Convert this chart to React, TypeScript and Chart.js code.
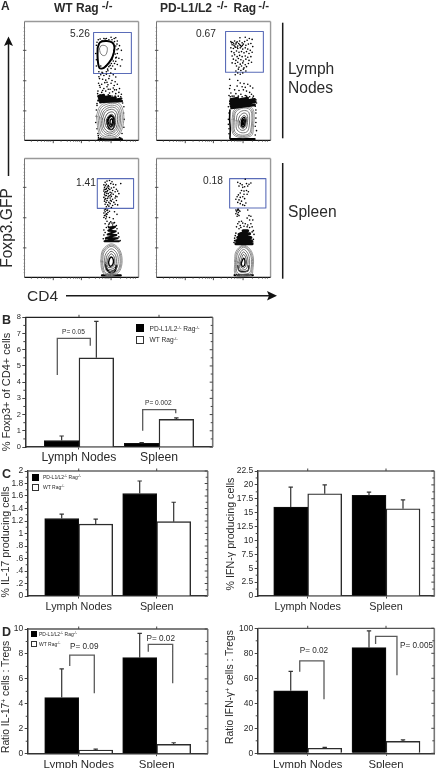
import React, { useEffect, useRef } from "react";
import { Chart, registerables } from "chart.js";

Chart.register(...registerables);

/* ---------- bar panels: values ---------- */
const categories = ["Lymph Nodes", "Spleen"];
const categoryPositions = [1, 2];
const seriesKo = "PD-L1/L2-/- Rag-/-";
const seriesWt = "WT Rag-/-";

const bKo = [0.4, 0.22];
const bWt = [5.5, 1.7];
const bKoTop = [0.68, 0.27];
const bWtTop = [7.75, 1.8];
const bTicks = ["0", "1", "2", "3", "4", "5", "6", "7", "8"];
const bBrackets = [
  [0.729, 4.44, 0.729, 6.7, 1.141, 6.7, 1.141, 6.25],
  [1.796, 1.0, 1.796, 2.3, 2.209, 2.3, 2.209, 2.08],
];

const cLeftKo = [1.24, 1.64];
const cLeftWt = [1.15, 1.19];
const cLeftKoTop = [1.31, 1.84];
const cLeftWtTop = [1.23, 1.5];
const cLeftTicks = ["0", ".2", ".4", ".6", ".8", "1", "1.2", "1.4", "1.6", "1.8", "2"];

const cRightKo = [16, 18.1];
const cRightWt = [18.4, 15.7];
const cRightKoTop = [19.6, 18.7];
const cRightWtTop = [20, 17.3];
const cRightTicks = ["0", "2.5", "5", "7.5", "10", "12.5", "15", "17.5", "20", "22.5"];

const dLeftKo = [4.5, 7.7];
const dLeftWt = [0.3, 0.75];
const dLeftKoTop = [6.8, 9.65];
const dLeftWtTop = [0.36, 0.88];
const dLeftTicks = ["0", "2", "4", "6", "8", "10"];
const dLeftBrackets = [
  [0.885, 7.03, 0.885, 7.9, 1.2, 7.9, 1.2, 4.84],
  [1.892, 8.18, 1.892, 8.77, 2.205, 8.77, 2.205, 5.64],
];

const dRightKo = [50, 84.5];
const dRightWt = [4, 9.5];
const dRightKoTop = [65.5, 98];
const dRightWtTop = [4.8, 10.8];
const dRightTicks = ["0", "20", "40", "60", "80", "100"];
const dRightBrackets = [
  [0.898, 65.3, 0.898, 74, 1.208, 74, 1.208, 43.2],
  [1.867, 87.5, 1.867, 93.6, 2.14, 93.6, 2.14, 62.4],
];

/* ---------- flow panels: events and contours in channel units ---------- */
const flowYTicks = [100, 197, 293];
const flowYMinor = [28, 40, 52, 62, 72, 82, 125, 137, 149, 159, 169, 179, 220, 232, 244, 254, 264, 274, 318, 330, 342, 352, 362, 372];
const flowXTicks = [100, 190, 285];
const flowXMinor = [30, 50, 62, 72, 80, 86, 92, 125, 145, 155, 165, 172, 178, 184, 215, 235, 248, 258, 266, 272, 278, 315, 335, 347, 356, 363];

const a1Dots = [305,70,312,85,318,100,305,110,310,125,320,130,300,135,305,145,315,150,290,150,285,158,298,160,275,165,295,62,300,60,285,58,270,62,250,64,262,62,308,95,302,122,296,142,282,148,
  244,66,256,70,266,64,278,66,288,66,296,72,304,80,300,86,304,98,298,112,300,124,292,134,286,142,278,152,270,168,256,170,246,168,238,150,238,130,236,110,238,84,240,74,274,160,268,150,252,150,288,128,294,100,
  252,178,262,180,270,176,280,182,292,178,300,185,248,190,258,192,268,195,278,190,288,196,298,200,245,205,255,208,265,203,275,210,285,205,295,212,305,208,250,218,262,222,272,216,282,224,292,220,302,226,312,222,243,230,255,234,268,230,280,236,290,232,300,238,310,234,318,240,
  246,184,258,172,284,172,272,202,248,212,258,228,276,224,296,226,242,238,250,242,264,244,276,242,288,246,298,246,308,246,316,248,
  238,310,236,330,240,350,243,365,245,378,325,300,327,320,326,345,320,365,316,380,240,276,238,290,326,280,240,270,322,268,244,372,252,380,312,378];
const a1Bands = [[242,92,250,74,272,70,290,76,296,92,290,120,278,140,262,156,248,156,242,125,242,92]];
const a1Zig = [244,246,262,242,246,252,282,246,244,260,300,250,250,266,318,254,262,264,320,262];
const a1Rings = [
  [238,310,250,278,282,264,312,270,325,300,322,345,305,375,270,380,248,368,238,310],
  [243,311,254,282,283,269,309,275,320,302,317,345,302,372,271,376,251,363,243,311],
  [248,313,259,287,284,275,306,281,315,305,312,345,298,367,273,371,255,356,248,313],
  [253,315,263,292,285,281,303,287,311,308,307,345,294,362,275,366,258,350,253,315],
  [258,318,267,296,286,288,300,294,306,312,302,345,291,358,276,360,262,345,258,318],
  [264,320,272,303,287,296,297,302,300,318,297,342,288,352,277,352,267,340,264,320],
  [270,322,276,310,287,304,294,310,296,322,293,338,286,346,279,345,272,336,270,322],
];
const a1Core = [[275,325,280,314,288,310,293,316,294,326,291,336,285,342,280,340,275,325],[282,322,288,318,290,326,287,336,282,334,282,322],[272,330,276,345,283,352,291,350,296,335,295,318,286,308,277,314,272,330]];
const a1Inner = [248,95,252,86,262,84,272,90,272,105,266,116,256,115,250,106,248,95];
const a1Base = [245,384,320,384];

const a2Dots = [246,72,252,75,258,70,266,73,274,70,282,76,290,72,298,68,305,62,292,58,275,60,314,65,250,82,256,84,262,80,268,86,274,82,280,88,286,80,294,84,302,80,310,78,316,88,246,92,254,94,260,90,268,94,276,92,284,96,292,92,300,96,308,100,248,104,256,108,264,102,272,106,280,104,288,108,296,104,304,110,314,106,250,118,258,114,266,120,274,116,282,120,292,118,300,122,310,120,254,128,262,132,270,126,278,130,286,134,294,128,304,132,250,140,260,142,268,138,276,144,284,140,292,146,302,142,312,138,264,150,272,154,280,150,288,156,296,152,270,160,278,164,286,160,294,166,262,166,
  248,76,255,79,263,76,271,78,277,85,259,87,266,90,283,84,
  268,172,276,176,284,172,260,178,242,192,268,196,276,204,288,206,300,208,244,212,266,214,282,216,292,218,308,214,316,220,242,222,258,226,272,228,286,226,296,230,306,234,246,236,262,238,278,240,292,244,312,240,318,246,240,244,250,246,326,258,328,268,240,300,238,320,326,300,326,330,240,350,
  244,248,256,246,270,246,282,248,296,246,306,248,316,252,324,278,326,290,326,316,324,342,328,356,324,370,238,280,238,336,240,366];
const a2Bands = [[243,290,242,320,244,350,243,380]];
const a2Zig = [246,256,268,252,244,262,300,252,244,270,322,256,246,278,324,264,248,284,322,274];
const a2Rings = [
  [250,320,256,290,285,277,312,282,320,300,318,345,312,372,275,378,252,365,250,320],
  [254,321,259,293,285,280,309,285,316,303,314,345,308,369,275,374,255,362,254,321],
  [257,322,262,296,286,284,307,289,313,306,311,345,304,366,276,370,258,358,257,322],
  [263,324,268,303,286,292,302,296,306,312,304,345,297,360,277,362,264,350,263,324],
  [269,325,274,310,287,300,297,304,300,318,297,343,291,353,278,354,270,343,269,325],
  [274,327,279,316,288,308,294,312,296,322,293,340,287,348,280,347,275,338,274,327],
];
const a2Core = [[279,330,283,318,289,314,292,322,291,336,286,344,281,342,279,330],[284,322,288,320,288,334,284,338,284,322]];
const a2Base = [245,383,322,383];

const a3Dots = [266,84,272,80,280,78,288,82,262,92,270,90,276,94,284,88,292,90,300,92,316,88,264,100,270,104,278,98,286,102,294,100,302,106,262,112,268,114,274,110,282,116,290,110,298,114,306,112,310,120,264,122,270,126,276,120,284,124,292,122,300,128,262,132,268,136,276,130,282,134,290,138,298,134,304,130,264,144,272,142,278,148,286,144,294,148,302,142,266,154,274,156,282,152,290,158,298,154,306,156,270,162,278,160,286,164,267,95,273,99,281,107,287,118,271,119,279,127,286,129,268,107,265,117,274,135,283,141,269,148,263,106,266,127,272,113,277,104,265,138,
  268,170,272,174,266,178,262,182,270,184,275,180,264,190,270,194,262,196,268,200,274,172,280,176,296,178,304,186,280,196,292,200,272,208,284,210,296,212,266,216,278,218,290,220,302,222,270,228,262,236,266,244,262,252,272,260,304,232,308,246,310,258,268,268,260,264,314,270,264,172,268,188,272,186,280,214,288,214,276,224,294,214];
const a3Zig = [278,228,298,226,276,238,300,240,274,250,302,252,268,262,306,262,264,272,310,272];
const a3Rings = [
  [252,335,258,300,285,280,310,295,320,325,316,360,300,378,268,380,256,365,252,335],
  [255,336,260,303,285,284,308,298,317,326,313,359,298,375,269,377,258,362,255,336],
  [258,337,263,306,285,288,306,302,314,328,310,358,296,372,270,374,261,360,258,337],
  [263,338,268,312,285,296,302,308,308,330,304,355,292,366,272,368,266,355,263,338],
  [268,340,272,318,285,304,298,314,302,332,299,352,289,360,274,361,270,352,268,340],
  [272,342,276,324,285,312,294,320,297,335,294,350,286,355,276,355,273,350,272,342],
];
const a3Core = [[277,340,280,328,286,322,292,330,292,342,287,350,280,350,277,340],[266,345,270,360,280,372,296,370,304,350],[269,350,274,364,284,368,298,362,301,348]];
const a3Base = [256,381,316,381];

const a4Dots = [268,84,276,88,282,92,292,74,296,88,304,90,310,86,272,96,284,100,290,98,300,96,280,110,288,112,296,110,302,114,276,118,270,124,288,122,298,122,266,130,276,132,284,130,262,138,272,140,280,144,290,136,268,148,276,152,294,150,284,156,290,158,
  262,172,268,170,272,174,264,178,270,180,275,176,262,184,268,186,272,190,266,192,300,172,304,190,310,192,316,204,298,198,306,204,272,210,280,208,268,216,276,222,284,214,292,216,300,220,310,216,314,226,318,238,264,226,272,232,262,246,258,262,256,276,320,250,318,266,266,174,270,170,278,228,288,224,298,226,306,228,314,242,260,254,258,270,316,274];
const a4Zig = [285,238,300,238,272,250,306,248,268,260,310,260,264,270,312,270,262,280,314,280];
const a4Rings = [
  [258,335,262,305,285,284,308,298,318,325,316,365,312,380,262,380,258,335],
  [261,336,265,307,285,287,306,301,315,327,313,363,308,377,265,377,261,336],
  [263,337,268,310,286,291,304,304,312,330,310,362,304,374,268,374,263,337],
  [268,338,272,316,286,298,300,310,306,332,304,358,298,368,273,368,268,338],
  [272,340,276,322,286,306,296,316,301,335,298,355,292,362,277,362,272,340],
  [276,342,280,328,286,314,293,322,296,338,293,352,287,357,280,356,276,342],
];
const a4Core = [[279,342,283,332,287,326,291,334,290,348,285,352,281,350,279,342],[268,350,273,366,300,366,304,350]];
const a4Base = [258,380,316,380];

const a1Gate = [229,43,350,43,350,174,229,174,229,43];
const a2Gate = [229,40,350,40,350,170,229,170,229,40];
const a3Gate = [241,72,357,72,357,167,241,167,241,72];
const a4Gate = [242,72,358,72,358,166,242,166,242,72];

const pairs = (flat: number[]) => {
  const out: { x: number; y: number }[] = [];
  for (let i = 0; i + 1 < flat.length; i += 2) out.push({ x: flat[i], y: flat[i + 1] });
  return out;
};

const INK = "#2a2a2a";
const FONT = '"Liberation Sans", Arial, sans-serif';

/* ---------- flow chart config ---------- */
function flowConfig(p: any) {
  const line = (flat: number[], color: string, width: number, tension = 0.35) => ({
    data: pairs(flat), showLine: true, borderColor: color, borderWidth: width, tension, pointRadius: 0, fill: false,
    borderJoinStyle: "round", borderCapStyle: "round",
  });
  const ringColors = ["#8a8a8a", "#808080", "#777", "#6a6a6a", "#555", "#444", "#333"];
  const datasets: any[] = [
    ...(p.bands || []).map((b: number[]) => line(b, "#000", p.bandWidth)),
    line(p.zig, "#0a0a0a", p.zigWidth, 0),
    ...p.rings.map((r: number[], i: number) => line(r, ringColors[i] || "#333", 0.9)),
    ...p.core.map((r: number[]) => line(r, "#000", 1.4)),
    line(p.base, "#000", 2.2, 0),
    { data: pairs(p.dots), pointRadius: 0.8, pointBackgroundColor: "#000", pointBorderWidth: 0, showLine: false },
    line(p.gate, "#5a6cb8", 1.1, 0),
  ];
  if (p.inner) datasets.push(line(p.inner, "#777", 1));
  const framePlugin = {
    id: "flowFrame",
    afterDatasetsDraw(chart: any) {
      const { ctx } = chart;
      const X = chart.scales.x, Y = chart.scales.y;
      const seg = (x1: number, y1: number, x2: number, y2: number, c: string, w: number) => {
        ctx.strokeStyle = c; ctx.lineWidth = w; ctx.beginPath();
        ctx.moveTo(X.getPixelForValue(x1), Y.getPixelForValue(y1));
        ctx.lineTo(X.getPixelForValue(x2), Y.getPixelForValue(y2)); ctx.stroke();
      };
      ctx.save();
      seg(8, 8, 373, 8, "#999", 1.4);
      seg(373, 8, 373, 387, "#999", 1.4);
      seg(8, 8, 8, 387, "#777", 1);
      seg(8, 387, 373, 387, "#111", 1.3);
      flowYTicks.forEach((v) => seg(3, v, 14, v, "#444", 0.9));
      flowYMinor.forEach((v) => seg(5, v, 10, v, "#777", 0.7));
      flowXTicks.forEach((v) => seg(v, 387, v, 396, "#333", 0.9));
      flowXMinor.forEach((v) => seg(v, 387, v, 392, "#555", 0.7));
      ctx.restore();
    },
  };
  return {
    type: "scatter",
    data: { datasets },
    plugins: [framePlugin],
    options: {
      responsive: false,
      animation: false,
      layout: { padding: 0 },
      plugins: { legend: { display: false }, tooltip: { enabled: false } },
      scales: {
        x: { type: "linear", display: false, min: 0, max: 384 },
        y: { type: "linear", display: false, min: 0, max: 405, reverse: true },
      },
    },
  };
}

/* ---------- bar chart config ---------- */
function barConfig(p: any) {
  const errs = [p.koTop, p.wtTop];
  const errorPlugin = {
    id: "barExtras",
    afterDatasetsDraw(chart: any) {
      const { ctx, chartArea: a } = chart;
      const Y = chart.scales.y, X = chart.scales.x;
      ctx.save();
      // error bars, rising from each bar top
      [0, 1].forEach((d) => {
        chart.getDatasetMeta(d).data.forEach((bar: any, i: number) => {
          const top = Y.getPixelForValue(errs[d][i]);
          ctx.strokeStyle = "#333"; ctx.lineWidth = 1.2;
          ctx.beginPath(); ctx.moveTo(bar.x, bar.y); ctx.lineTo(bar.x, top);
          ctx.moveTo(bar.x - 2.2, top); ctx.lineTo(bar.x + 2.2, top); ctx.stroke();
        });
      });
      // frame
      ctx.strokeStyle = p.topColor; ctx.lineWidth = 1.3;
      ctx.beginPath(); ctx.moveTo(a.left, a.top); ctx.lineTo(a.right, a.top); ctx.stroke();
      ctx.strokeStyle = "#777"; ctx.lineWidth = 1.6;
      ctx.beginPath(); ctx.moveTo(a.right, a.top); ctx.lineTo(a.right, a.bottom); ctx.stroke();
      // right-hand and minor ticks, top ticks
      const step = p.step / 2;
      for (let k = 0; k * step <= p.max + 1e-6; k++) {
        const py = Y.getPixelForValue(k * step);
        const major = k % 2 === 0;
        ctx.strokeStyle = "#444"; ctx.lineWidth = 1;
        ctx.beginPath(); ctx.moveTo(a.right, py); ctx.lineTo(a.right - (major ? 3 : 2), py);
        if (!major) { ctx.moveTo(a.left, py); ctx.lineTo(a.left - 2, py); }
        ctx.stroke();
      }
      categoryPositions.forEach((v) => {
        const px = X.getPixelForValue(v);
        ctx.strokeStyle = "#444"; ctx.lineWidth = 1;
        ctx.beginPath(); ctx.moveTo(px, a.top); ctx.lineTo(px, a.top - 2.5); ctx.stroke();
      });
      ctx.restore();
    },
  };
  const brackets = (p.brackets || []).map((b: number[]) => ({
    type: "line", data: pairs(b), borderColor: "#5a5a5a", borderWidth: 1.3, pointRadius: 0, tension: 0, fill: false, order: -1,
  }));
  const toPts = (vals: number[]) => vals.map((y, i) => ({ x: categoryPositions[i], y }));
  return {
    type: "bar",
    data: {
      datasets: [
        { label: seriesKo, data: toPts(p.ko), backgroundColor: "#000", borderColor: "#111", borderWidth: 1, barThickness: p.barW, order: 1 },
        { label: seriesWt, data: toPts(p.wt), backgroundColor: "#fff", borderColor: "#2c2c2c", borderWidth: 1.4, barThickness: p.barW, order: 1 },
        ...brackets,
      ],
    },
    plugins: [errorPlugin],
    options: {
      responsive: false,
      animation: false,
      layout: { padding: { top: p.padTop, right: p.padRight, left: 0, bottom: 0 } },
      plugins: { legend: { display: false }, tooltip: { enabled: false } },
      scales: {
        x: {
          type: "linear", min: p.xMin, max: p.xMax, offset: false,
          grid: { offset: false, drawOnChartArea: false, tickLength: 2.5, tickColor: "#444", drawTicks: true },
          border: { color: "#333", width: 1.5 },
          afterBuildTicks: (s: any) => { s.ticks = categoryPositions.map((value) => ({ value })); },
          afterFit: (s: any) => { s.height = p.axisH; },
          ticks: {
            autoSkip: false, maxRotation: 0, padding: p.xPad, color: INK,
            font: { family: FONT, size: p.xFont },
            callback: (v: number) => categories[categoryPositions.indexOf(v)] ?? "",
          },
        },
        y: {
          type: "linear", min: 0, max: p.max,
          grid: { drawOnChartArea: false, tickLength: 3, tickColor: "#444" },
          border: { color: "#333", width: 1.5 },
          afterFit: (s: any) => { s.width = p.axisW; },
          ticks: {
            stepSize: p.step, padding: 1.5, color: INK, autoSkip: false,
            font: { family: FONT, size: p.yFont },
            callback: (_: number, i: number) => p.ticks[i],
          },
        },
      },
    },
  };
}

function Canvas({ x, y, w, h, make }: any) {
  const ref = useRef<HTMLCanvasElement>(null);
  useEffect(() => {
    const c = new Chart(ref.current as any, make());
    return () => c.destroy();
  }, []);
  return <canvas ref={ref} width={w} height={h} style={{ position: "absolute", left: x, top: y, width: w, height: h }} />;
}

function T({ x, y, s, b, rot, c, children }: any) {
  return (
    <div
      style={{
        position: "absolute", left: x, top: y, fontFamily: FONT, fontSize: s, fontWeight: b ? 700 : 400,
        color: c || INK, whiteSpace: "nowrap", lineHeight: 1,
        transform: rot ? "translate(-50%,-50%) rotate(-90deg)" : "translateY(-50%)",
      }}
    >
      {children}
    </div>
  );
}
const Sup = ({ children }: any) => <sup style={{ fontSize: "0.65em", lineHeight: 0, verticalAlign: "0.45em" }}>{children}</sup>;

function Legend({ x, y1, y2, size, box, textX, koY, wtY }: any) {
  return (
    <>
      <div style={{ position: "absolute", left: x, top: y1, width: box, height: box, background: "#000" }} />
      <div style={{ position: "absolute", left: x, top: y2, width: box, height: box, background: "#fff", border: "1px solid #333", boxSizing: "border-box" }} />
      <T x={textX} y={koY} s={size}>PD-L1/L2<Sup>-/-</Sup> Rag<Sup>-/-</Sup></T>
      <T x={textX} y={wtY} s={size}>WT Rag<Sup>-/-</Sup></T>
    </>
  );
}

const flowPanels = [
  { x: 18, y: 15, p: { dots: a1Dots, bands: a1Bands, bandWidth: 2, zig: a1Zig, zigWidth: 2.2, rings: a1Rings, core: a1Core, base: a1Base, gate: a1Gate, inner: a1Inner } },
  { x: 150, y: 15, p: { dots: a2Dots, bands: a2Bands, bandWidth: 1.6, zig: a2Zig, zigWidth: 2.6, rings: a2Rings, core: a2Core, base: a2Base, gate: a2Gate } },
  { x: 18, y: 152, p: { dots: a3Dots, zig: a3Zig, zigWidth: 2, rings: a3Rings, core: a3Core, base: a3Base, gate: a3Gate } },
  { x: 150, y: 152, p: { dots: a4Dots, zig: a4Zig, zigWidth: 3, rings: a4Rings, core: a4Core, base: a4Base, gate: a4Gate } },
];

const leftC = { xMin: 0.346, xMax: 2.654, axisW: 27.7, padRight: 13.3, barW: 34 };
const rightC = { xMin: 0.361, xMax: 2.617, axisW: 36.7, padRight: 7.7, barW: 34 };

const barPanels = [
  { x: 0, y: 310, w: 221, h: 156, p: { ko: bKo, wt: bWt, koTop: bKoTop, wtTop: bWtTop, ticks: bTicks, step: 1, max: 8, brackets: bBrackets, xMin: 0.329, xMax: 2.671, axisW: 25.3, axisH: 19, padTop: 7.3, padRight: 8.3, barW: 34.7, xFont: 12.2, xPad: 1, yFont: 7.5, topColor: "#222" } },
  { x: 0, y: 460, w: 221, h: 152, p: { ...leftC, ko: cLeftKo, wt: cLeftWt, koTop: cLeftKoTop, wtTop: cLeftWtTop, ticks: cLeftTicks, step: 0.2, max: 2, axisH: 16, padTop: 11, xFont: 10.8, xPad: 2, yFont: 8.5, topColor: "#666" } },
  { x: 221, y: 460, w: 221, h: 152, p: { ...rightC, ko: cRightKo, wt: cRightWt, koTop: cRightKoTop, wtTop: cRightWtTop, ticks: cRightTicks, step: 2.5, max: 22.5, axisH: 16, padTop: 11, xFont: 10.8, xPad: 2, yFont: 8.5, topColor: "#666" } },
  { x: 0, y: 612, w: 221, h: 156, p: { ...leftC, ko: dLeftKo, wt: dLeftWt, koTop: dLeftKoTop, wtTop: dLeftWtTop, ticks: dLeftTicks, step: 2, max: 10, brackets: dLeftBrackets, axisH: 14.3, padTop: 17, xFont: 11.5, xPad: 2, yFont: 8.5, topColor: "#555" } },
  { x: 221, y: 612, w: 221, h: 156, p: { ...rightC, ko: dRightKo, wt: dRightWt, koTop: dRightKoTop, wtTop: dRightWtTop, ticks: dRightTicks, step: 20, max: 100, brackets: dRightBrackets, axisH: 14.7, padTop: 16.3, xFont: 11.3, xPad: 2, yFont: 8.5, topColor: "#555" } },
];

export default function App() {
  return (
    <div style={{ position: "absolute", left: 0, top: 0, width: 442, height: 768, background: "#fff", overflow: "hidden" }}>
      {flowPanels.map((f, i) => (
        <Canvas key={i} x={f.x} y={f.y} w={128} h={135} make={() => flowConfig(f.p)} />
      ))}
      {barPanels.map((b, i) => (
        <Canvas key={i} x={b.x} y={b.y} w={b.w} h={b.h} make={() => barConfig(b.p)} />
      ))}

      <svg width={442} height={768} style={{ position: "absolute", left: 0, top: 0, pointerEvents: "none" }}>
        <g stroke="#1a1a1a" strokeWidth={1.5} fill="none">
          <line x1={282.7} y1={22.7} x2={282.7} y2={138.3} />
          <line x1={282.7} y1={163} x2={282.7} y2={278.7} />
          <line x1={8.5} y1={176} x2={8.5} y2={44} />
          <line x1={66} y1={295.7} x2={270} y2={295.7} />
        </g>
        <polygon points="8.5,36.5 4,46 8.5,44 13,46" fill="#111" />
        <polygon points="277,295.7 267,291 269,295.7 267,300.4" fill="#111" />
      </svg>

      <T x={1} y={6} s={12} b>A</T>
      <T x={54} y={8} s={12} b>WT Rag</T>
      <T x={101.7} y={5.5} s={11.5} b>-/-</T>
      <T x={160} y={8} s={12} b>PD-L1/L2</T>
      <T x={216.7} y={5.5} s={11.5} b>-/-</T>
      <T x={233.5} y={8} s={12} b>Rag</T>
      <T x={258.3} y={5.5} s={11.5} b>-/-</T>
      <T x={288} y={69} s={15.6}>Lymph</T>
      <T x={288} y={88} s={15.6}>Nodes</T>
      <T x={288} y={212} s={15.6}>Spleen</T>
      <T x={6.5} y={228} s={15.6} rot>Foxp3.GFP</T>
      <T x={27} y={296} s={15.5}>CD4</T>
      <T x={70} y={34} s={10.2}>5.26</T>
      <T x={196} y={34} s={10.2}>0.67</T>
      <T x={76} y={183} s={10.2}>1.41</T>
      <T x={203} y={181} s={10.2}>0.18</T>

      <T x={2} y={320} s={12.5} b>B</T>
      <T x={5.5} y={391.5} s={11} rot>% Foxp3+ of CD4+ cells</T>
      <Legend x={136} y1={324} y2={335.7} box={8.3} size={6.6} textX={149.5} koY={328.5} wtY={340} />
      <T x={62} y={332} s={6.6}>P= 0.05</T>
      <T x={145} y={403} s={6.6}>P= 0.002</T>

      <T x={2} y={473.5} s={12.5} b>C</T>
      <T x={5} y={541.5} s={10.7} rot>% IL-17 producing cells</T>
      <T x={229.5} y={533.5} s={10.7} rot>% IFN-γ producing cells</T>
      <Legend x={32} y1={474} y2={484} box={6.6} size={5} textX={43} koY={477.3} wtY={487.3} />

      <T x={2} y={632} s={12.5} b>D</T>
      <T x={5.5} y={697} s={10.3} rot>Ratio IL-17<Sup>+</Sup> cells : Tregs</T>
      <T x={230} y={686.5} s={10.3} rot>Ratio IFN-γ<Sup>+</Sup> cells : Tregs</T>
      <Legend x={30.7} y1={631} y2={641} box={6} size={5} textX={39} koY={634} wtY={644} />
      <T x={70} y={646.7} s={8.2}>P= 0.09</T>
      <T x={146.5} y={639} s={8.2}>P= 0.02</T>
      <T x={299.7} y={651} s={8.2}>P= 0.02</T>
      <T x={400} y={646} s={8.2}>P= 0.005</T>
    </div>
  );
}
